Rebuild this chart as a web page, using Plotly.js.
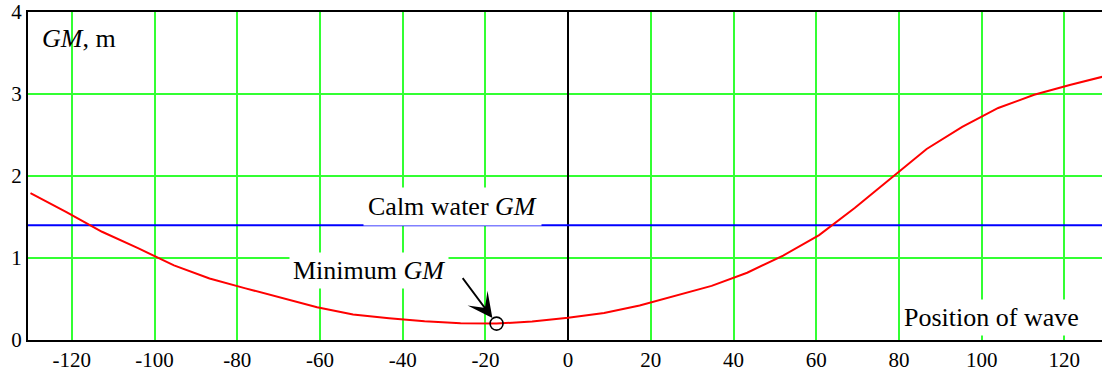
<!DOCTYPE html>
<html>
<head>
<meta charset="utf-8">
<script src="https://cdn.plot.ly/plotly-3.0.1.min.js"></script>
<style>html,body{margin:0;padding:0;background:#fff;}#chart{width:1102px;height:371px;}</style>
</head>
<body>
<div id="chart"></div>
<script>
// Wave position (m) and GM (m)
const wavePos = [-130, -121.3, -112.7, -104, -95.3, -86.7, -78, -69.3, -60.7, -52, -43.3, -34.7, -26, -17.3, -8.7, 0, 8.7, 17.3, 26, 34.7, 43.3, 52, 60.7, 69.3, 78, 86.7, 95.3, 104, 112.7, 121.3, 130];
const gmValues = [1.79, 1.56, 1.32, 1.12, 0.91, 0.75, 0.63, 0.51, 0.40, 0.31, 0.265, 0.23, 0.205, 0.20, 0.225, 0.27, 0.33, 0.42, 0.54, 0.66, 0.82, 1.03, 1.28, 1.61, 1.97, 2.33, 2.60, 2.83, 2.99, 3.11, 3.22];
const calmX = [-131, 131];
const calmGM = [1.4, 1.4];
const minX = [-17.3];
const minGM = [0.20];
const xTickVals = [-120, -100, -80, -60, -40, -20, 0, 20, 40, 60, 80, 100, 120];
const xTickText = ['-120', '-100', '-80', '-60', '-40', '-20', '0', '20', '40', '60', '80', '100', '120'];
const yTickVals = [0, 1, 2, 3, 4];
const yTickText = ['0', '1', '2', '3', '4'];

const serif = '"Liberation Serif", "Times New Roman", Times, serif';

const traces = [
  {x: calmX, y: calmGM, mode: 'lines', line: {color: '#0000ff', width: 2}, hoverinfo: 'skip'},
  {x: wavePos, y: gmValues, mode: 'lines', line: {color: '#ff0000', width: 2}, hoverinfo: 'skip'},
  {x: minX, y: minGM, mode: 'markers', marker: {symbol: 'circle-open', size: 13, color: '#000', line: {width: 1.6, color: '#000'}}, hoverinfo: 'skip'}
];

const layout = {
  width: 1102, height: 371,
  margin: {l: 28, r: 0, t: 12, b: 31},
  paper_bgcolor: '#fff', plot_bgcolor: '#fff',
  showlegend: false, hovermode: false,
  font: {family: serif, size: 21, color: '#000'},
  xaxis: {
    range: [-130.6, 129.1], tickvals: xTickVals, ticktext: xTickText,
    showgrid: true, gridcolor: '#33ff33', gridwidth: 2,
    zeroline: true, zerolinecolor: '#000', zerolinewidth: 1.2,
    showline: true, linecolor: '#000', linewidth: 2, mirror: true,
    ticks: '', tickfont: {family: serif, size: 21, color: '#000'},
    fixedrange: true
  },
  yaxis: {
    range: [0, 4], tickvals: yTickVals, ticktext: yTickText,
    showgrid: true, gridcolor: '#33ff33', gridwidth: 2,
    zeroline: false,
    showline: true, linecolor: '#000', linewidth: 2, mirror: false,
    ticks: '', tickfont: {family: serif, size: 21, color: '#000'},
    fixedrange: true
  },
  annotations: [
    {x: -127.7, y: 3.68, xref: 'x', yref: 'y', xanchor: 'left', yanchor: 'middle', showarrow: false,
     text: '<i>GM</i>, m', font: {family: serif, size: 26, color: '#000'}},
    {x: -49.5, y: 1.39, xref: 'x', yref: 'y', xanchor: 'left', yanchor: 'bottom', showarrow: false,
     text: 'Calm water <i>GM</i>', bgcolor: '#fff', borderpad: 4, font: {family: serif, size: 26, color: '#000'}},
    {x: -48.2, y: 0.85, xref: 'x', yref: 'y', xanchor: 'center', yanchor: 'middle', showarrow: false,
     text: 'Minimum <i>GM</i>', bgcolor: '#fff', borderpad: 3, font: {family: serif, size: 26, color: '#000'}},
    {x: minX[0], y: minGM[0], xref: 'x', yref: 'y', text: '', showarrow: true,
     ax: -35, ay: -47, arrowhead: 3, arrowsize: 2.3, arrowwidth: 1.8, arrowcolor: '#000', standoff: 7},
    {x: 102.4, y: 0.28, xref: 'x', yref: 'y', xanchor: 'center', yanchor: 'middle', showarrow: false,
     text: 'Position of wave', bgcolor: '#fff', borderpad: 3, font: {family: serif, size: 26, color: '#000'}}
  ]
};

Plotly.newPlot('chart', traces, layout, {staticPlot: true, displayModeBar: false});
</script>
</body>
</html>
